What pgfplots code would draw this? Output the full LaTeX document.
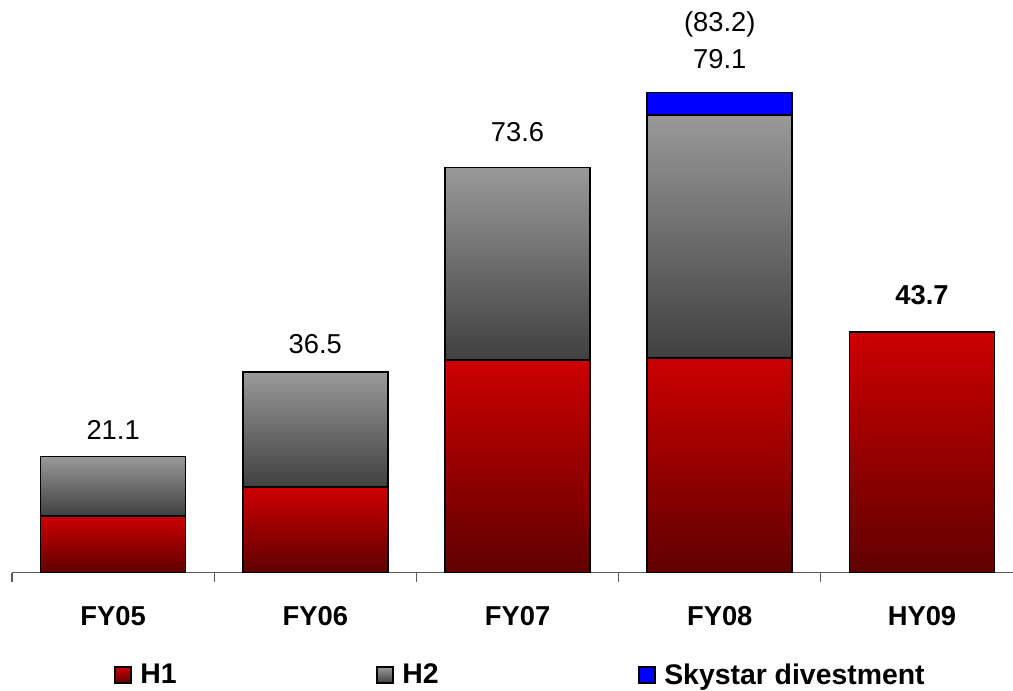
\documentclass[border=0pt]{standalone}
\usepackage{fontspec}
\setmainfont{Liberation Sans}
\usepackage{pgfplots}
\pgfplotsset{compat=1.18}

\definecolor{redtop}{RGB}{204,0,0}
\definecolor{redbot}{RGB}{96,0,0}
\definecolor{graytop}{RGB}{153,153,153}
\definecolor{graybot}{RGB}{64,64,64}
\definecolor{axisgray}{RGB}{90,90,90}
\newcommand{\lbl}{\fontsize{20.5}{24}\selectfont}
\newcommand{\leg}{\fontsize{21.3}{25}\selectfont}

\tikzset{
  h1/.style={top color=redtop, bottom color=redbot, draw=black, line width=1.2pt},
  h2/.style={top color=graytop, bottom color=graybot, draw=black, line width=1.2pt},
  sky/.style={fill=blue, draw=black, line width=1.2pt},
}

\pgfplotsset{
  common/.style={
    at={(9pt,88.125pt)}, anchor=south west,
    scale only axis, width=750.75pt, height=412.5pt,
    xmin=-0.5, xmax=4.45, ymin=0, ymax=100,
    clip=false,
  },
  % one axis per year so that every segment gets its own gradient
  bars/.style={
    common, hide axis,
    ybar stacked, bar width=108.75pt,
  },
}

\begin{document}
\begin{tikzpicture}
\path[use as bounding box] (0,0) rectangle (759.75pt,517.5pt);

% frame: category axis, labels, legend
\begin{axis}[
  common,
  axis x line=bottom, axis y line=none,
  x axis line style={-, axisgray, line width=0.8pt},
  xtick={0,...,4}, xticklabels={FY05,FY06,FY07,FY08,HY09},
  major tick length=0pt,
  minor xtick={-0.5,0.5,1.5,2.5,3.5},
  minor tick length=6.75pt,
  tick align=outside,
  minor tick style={axisgray, line width=0.8pt},
  xticklabel style={font=\lbl\bfseries, anchor=base, yshift=-40.1pt},
  legend columns=3,
  legend cell align=left,
  legend image code/.code={\draw[#1, line width=1pt] (0pt,-6pt) rectangle (12pt,6pt);},
  legend style={at={(0.1019,-0.1864)}, anchor=west, draw=none, fill=none,
    inner sep=0pt, column sep=0pt, nodes={inner sep=0pt}, font=\leg\bfseries},
]
\addlegendimage{h1}
\addlegendimage{h2}
\addlegendimage{sky}
\legend{\makebox[183.5pt][l]{\hspace{6.5pt}H1},
        \makebox[183.5pt][l]{\hspace{6.5pt}H2},
        \hspace{6.5pt}Skystar divestment}

% totals
\node[font=\lbl, anchor=base] at (axis cs:0,24.1) {21.1};
\node[font=\lbl, anchor=base] at (axis cs:1,39.9) {36.5};
\node[font=\lbl, anchor=base] at (axis cs:2,78.3) {73.6};
\node[font=\lbl, anchor=base] at (axis cs:3,91.7) {79.1};
\node[font=\lbl, anchor=base] at (axis cs:3,98.3) {(83.2)};
\node[font=\lbl\bfseries, anchor=base] at (axis cs:4,48.8) {43.7};
\end{axis}

% FY05
\begin{axis}[bars]
\addplot[h1] coordinates {(0,10.3)};
\addplot[h2] coordinates {(0,10.8)};
\end{axis}
% FY06
\begin{axis}[bars]
\addplot[h1] coordinates {(1,15.5)};
\addplot[h2] coordinates {(1,21.0)};
\end{axis}
% FY07
\begin{axis}[bars]
\addplot[h1] coordinates {(2,38.6)};
\addplot[h2] coordinates {(2,35.0)};
\end{axis}
% FY08
\begin{axis}[bars]
\addplot[h1] coordinates {(3,39.0)};
\addplot[h2] coordinates {(3,44.2)};
\addplot[sky] coordinates {(3,4.1)};
\end{axis}
% HY09
\begin{axis}[bars]
\addplot[h1] coordinates {(4,43.7)};
\end{axis}
\end{tikzpicture}
\end{document}
